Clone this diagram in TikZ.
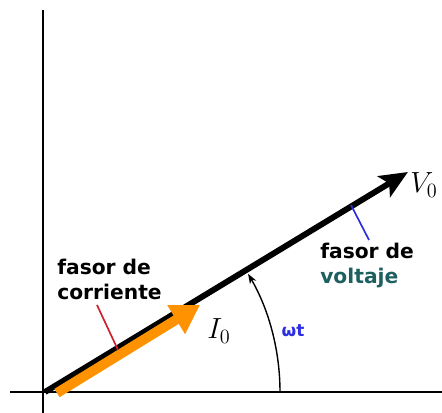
\documentclass[tikz,border=0pt]{standalone}
\usepackage{fontspec}
\newfontfamily\labelfont{DejaVu Sans}
\usetikzlibrary{arrows.meta, calc}
\definecolor{fasororange}{RGB}{255,146,0}
\definecolor{ticksred}{RGB}{205,35,45}
\definecolor{ticksblue}{RGB}{45,45,225}
\definecolor{voltteal}{RGB}{30,95,95}

\begin{document}
\begin{tikzpicture}[x=0.025cm, y=0.025cm,
        axis/.style={line width=2pt, black},
        lbl/.style={font=\labelfont\bfseries\fontsize{14.4}{17.5}\selectfont, align=left, inner sep=0pt},
        phasor/.style={font=\fontsize{20}{24}\selectfont, inner sep=0pt}]
    \useasboundingbox (0,0) rectangle (442,413);
    \def\wt{31.2}   % phase angle
    \def\r{235}     % arc radius
    % axes
    \coordinate (O) at (45,21);
    \draw[axis] (10,21) -- (442,21);
    \draw[axis] (43,0) -- (43,403);
    % voltage phasor
    \coordinate (Vtip) at (408,241);
    \draw[line width=4.2pt, -{Stealth[length=0.7cm, width=0.6cm, inset=0.15cm]}] (O) -- (Vtip);
    \node[phasor, anchor=west] (V) at (410,228) {$V_0$};
    % current phasor
    \coordinate (Ia) at (57,20);
    \coordinate (Ib) at (200,108);
    \draw[fasororange, line width=7pt, -{Triangle[length=0.7cm, width=0.8cm]}] (Ia) -- (Ib);
    \node[phasor, anchor=west] (I) at (207,82) {$I_0$};
    % angle
    \draw[-{Stealth[length=0.25cm, width=0.18cm]}, line width=1pt] (\r+45,21) arc[start angle=0, end angle=\wt-1, radius=\r];
    \node[font=\labelfont\bfseries\fontsize{12}{14}\selectfont, text=ticksblue] (wt) at (293,82) {ωt};
    % labels
    \node[lbl, anchor=south west] (corr) at (57,113) {fasor de\\corriente};
    \coordinate (Ca) at (97,108);
    \coordinate (Cb) at (118,63);
    \draw[ticksred, line width=1.2pt] (Ca) -- (Cb);
    \coordinate (Va) at (351,208);
    \coordinate (Vb) at (369,173);
    \draw[ticksblue, line width=1.2pt] (Va) -- (Vb);
    \node[lbl, anchor=north west] (volt) at (320,170) {fasor de\\\textcolor{voltteal}{voltaje}};
\end{tikzpicture}
\end{document}
